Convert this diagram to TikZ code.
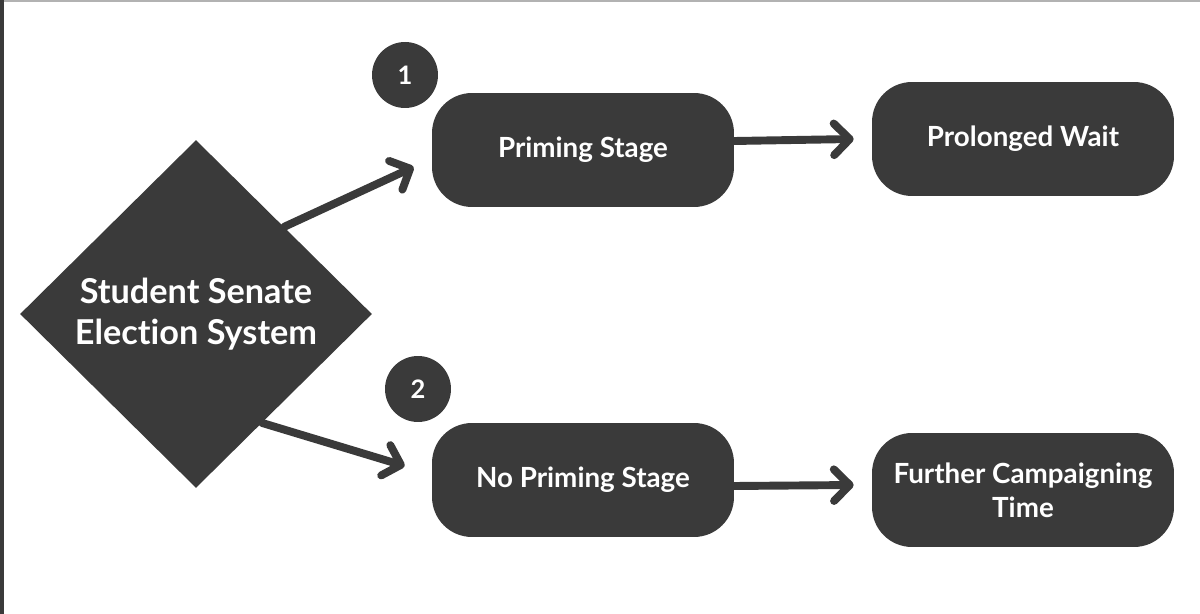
\documentclass[tikz,border=0pt]{standalone}
\usepackage{fontspec}
\setmainfont[Ligatures=NoCommon]{Lato}
\usetikzlibrary{shapes.geometric,arrows.meta,calc}
\definecolor{boxgray}{RGB}{58,58,58}

\begin{document}
\begin{tikzpicture}[x=0.02cm,y=-0.02cm,
	stage/.style={fill=boxgray,rounded corners=0.8cm,minimum width=6.04cm,minimum height=2.28cm,
		text=white,align=center,font=\bfseries\fontsize{15.8}{19.3}\selectfont},
	badge/.style={circle,fill=boxgray,minimum size=1.32cm,inner sep=0pt,text=white,
		font=\bfseries\fontsize{14.5}{16}\selectfont},
	link/.style={boxgray,line width=4.5pt,line cap=round,
		-{Straight Barb[length=9pt,width=18pt,line cap=round,line join=round]}}]
	\useasboundingbox (0,0) rectangle (1200,614);
	\fill[white] (0,0) rectangle (1200,614);
	\fill[boxgray] (0,0) rectangle (4,614);
	\fill[gray!60] (4,0) rectangle (1200,2);
	% decision and stages
	\node[diamond,fill=boxgray,minimum width=7.04cm,minimum height=6.96cm,inner sep=0pt,
		text=white,align=center,font=\bfseries\fontsize{19.5}{23.3}\selectfont]
		(senate) at (196,314) {Student Senate\\Election System};
	\node[stage] (priming) at (583,150) {Priming Stage};
	\node[stage] (wait) at (1023,139) {Prolonged Wait};
	\node[stage] (nopriming) at (583,480) {No Priming Stage};
	\node[stage] (further) at (1023,490) {Further Campaigning\\Time};
	\node[badge] (one) at (405,75) {1};
	\node[badge] (two) at (418,389) {2};
	% arrows
	\draw[link] (senate.north east) -- ([xshift=-0.36cm,yshift=-0.34cm]priming.west);
	\draw[link] ($(senate.south east)!0.25!(senate.south)$) -- ([xshift=-0.54cm,yshift=0.28cm]nopriming.west);
	\draw[link] ([yshift=0.18cm]priming.east) -- ([xshift=-0.36cm]wait.west);
	\draw[link] ([yshift=-0.12cm]nopriming.east) -- ([xshift=-0.36cm,yshift=0.1cm]further.west);
\end{tikzpicture}
\end{document}
